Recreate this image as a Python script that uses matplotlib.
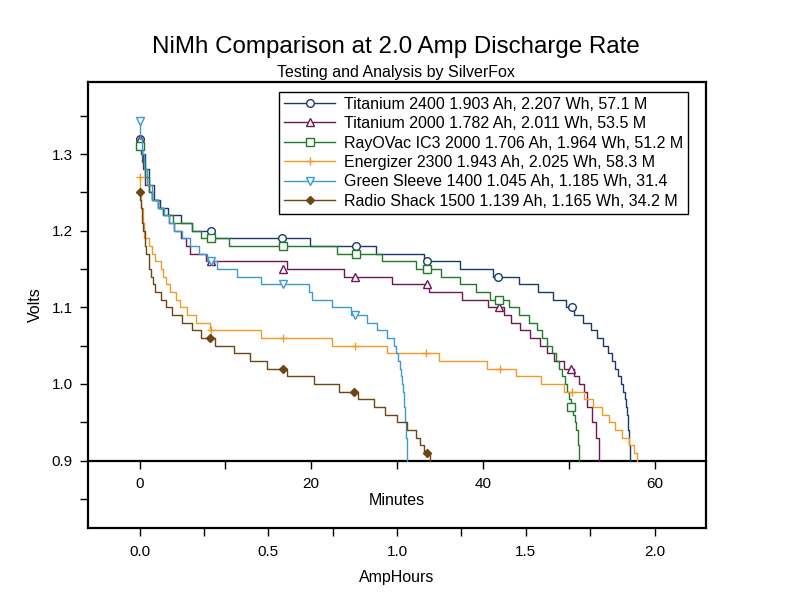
import numpy as np
import matplotlib
matplotlib.use("Agg")
import matplotlib.pyplot as plt
from matplotlib.ticker import MultipleLocator, FormatStrFormatter

plt.rcParams['font.family'] = ['Liberation Sans', 'DejaVu Sans']

# discharge curves: AmpHours where each voltage level starts, and the level
ti2400_ah = [0, 0.01, 0.02, 0.035, 0.056, 0.08, 0.11, 0.16, 0.205, 0.289, 0.664, 0.917, 1.103,
             1.245, 1.374, 1.472, 1.546, 1.604, 1.655, 1.687, 1.722, 1.755, 1.777, 1.80, 1.82,
             1.835, 1.848, 1.86, 1.87, 1.877, 1.884, 1.889, 1.893, 1.896, 1.898, 1.90, 1.902,
             1.903, 1.904]
ti2400_v = [1.32, 1.30, 1.28, 1.26, 1.24, 1.23, 1.22, 1.21, 1.20, 1.19, 1.18, 1.17, 1.16,
            1.15, 1.14, 1.13, 1.12, 1.11, 1.10, 1.09, 1.08, 1.07, 1.06, 1.05, 1.04,
            1.03, 1.02, 1.01, 1.00, 0.99, 0.98, 0.97, 0.96, 0.95, 0.94, 0.93, 0.92,
            0.91, 0.90]

ti2000_ah = [0, 0.005, 0.012, 0.02, 0.035, 0.05, 0.07, 0.09, 0.115, 0.135, 0.16, 0.18, 0.198,
             0.257, 0.574, 0.794, 0.981, 1.123, 1.253, 1.352, 1.417, 1.444, 1.479, 1.516, 1.557,
             1.583, 1.609, 1.65, 1.686, 1.706, 1.725, 1.739, 1.758, 1.771, 1.784]
ti2000_v = [1.32, 1.30, 1.28, 1.26, 1.25, 1.24, 1.23, 1.22, 1.21, 1.20, 1.19, 1.18, 1.17,
            1.16, 1.15, 1.14, 1.13, 1.12, 1.11, 1.10, 1.09, 1.08, 1.07, 1.06, 1.05,
            1.04, 1.03, 1.02, 1.01, 1.00, 0.99, 0.97, 0.95, 0.93, 0.90]

rov_ah = [0, 0.01, 0.02, 0.035, 0.05, 0.07, 0.09, 0.13, 0.205, 0.237, 0.347, 0.768, 0.942,
          1.072, 1.169, 1.245, 1.305, 1.36, 1.434, 1.473, 1.512, 1.544, 1.564, 1.583, 1.603,
          1.616, 1.628, 1.641, 1.654, 1.66, 1.668, 1.676, 1.685, 1.691, 1.696, 1.702, 1.706]
rov_v = [1.31, 1.29, 1.27, 1.25, 1.24, 1.23, 1.22, 1.21, 1.20, 1.19, 1.18, 1.17, 1.16,
         1.15, 1.14, 1.13, 1.12, 1.11, 1.10, 1.09, 1.08, 1.07, 1.06, 1.05, 1.04,
         1.03, 1.02, 1.01, 1.00, 0.99, 0.98, 0.97, 0.96, 0.95, 0.94, 0.92, 0.90]

ener_ah = [0, 0.003, 0.007, 0.012, 0.017, 0.036, 0.049, 0.062, 0.082, 0.09, 0.101, 0.12, 0.14,
           0.159, 0.185, 0.218, 0.272, 0.47, 0.748, 0.962, 1.162, 1.35, 1.464, 1.56, 1.65,
           1.725, 1.762, 1.797, 1.822, 1.848, 1.874, 1.90, 1.919, 1.933]
ener_v = [1.27, 1.25, 1.23, 1.21, 1.19, 1.18, 1.17, 1.16, 1.15, 1.14, 1.13, 1.12, 1.11,
          1.10, 1.09, 1.08, 1.07, 1.06, 1.05, 1.04, 1.03, 1.02, 1.01, 1.00, 0.99,
          0.98, 0.97, 0.96, 0.95, 0.94, 0.93, 0.92, 0.91, 0.90]

gs_ah = [0, 0.003, 0.008, 0.016, 0.03, 0.05, 0.07, 0.094, 0.114, 0.133, 0.166, 0.198, 0.23,
         0.262, 0.30, 0.379, 0.47, 0.66, 0.668, 0.748, 0.82, 0.884, 0.923, 0.962, 0.988,
         0.997, 1.005, 1.01, 1.014, 1.018, 1.022, 1.026, 1.029, 1.031, 1.033, 1.036, 1.039, 1.04]
gs_v = [1.34, 1.32, 1.30, 1.28, 1.26, 1.24, 1.23, 1.22, 1.21, 1.20, 1.19, 1.18, 1.17,
        1.16, 1.15, 1.14, 1.13, 1.12, 1.11, 1.10, 1.09, 1.08, 1.07, 1.06, 1.05,
        1.04, 1.03, 1.02, 1.01, 1.00, 0.99, 0.98, 0.97, 0.96, 0.95, 0.93, 0.91, 0.90]

rs_ah = [0, 0.002, 0.004, 0.0105, 0.014, 0.02, 0.027, 0.036, 0.045, 0.052, 0.062, 0.082, 0.101,
         0.127, 0.166, 0.205, 0.237, 0.295, 0.366, 0.431, 0.496, 0.574, 0.677, 0.774, 0.848,
         0.91, 0.955, 1.001, 1.04, 1.072, 1.091, 1.105, 1.13]
rs_v = [1.25, 1.24, 1.23, 1.21, 1.20, 1.18, 1.17, 1.15, 1.14, 1.13, 1.12, 1.11, 1.10,
        1.09, 1.08, 1.07, 1.06, 1.05, 1.04, 1.03, 1.02, 1.01, 1.00, 0.99, 0.98,
        0.97, 0.96, 0.95, 0.94, 0.93, 0.92, 0.91, 0.90]

# marker positions along each curve
ti2400_mk_ah = [0, 0.276, 0.555, 0.839, 1.118, 1.394, 1.68]
ti2400_mk_v = [1.32, 1.20, 1.19, 1.18, 1.16, 1.14, 1.10]
ti2000_mk_ah = [0, 0.276, 0.558, 0.835, 1.115, 1.395, 1.676]
ti2000_mk_v = [1.32, 1.16, 1.15, 1.14, 1.13, 1.10, 1.02]
rov_mk_ah = [0, 0.276, 0.557, 0.839, 1.117, 1.398, 1.677]
rov_mk_v = [1.31, 1.19, 1.18, 1.17, 1.15, 1.11, 0.97]
ener_mk_ah = [0, 0.276, 0.557, 0.835, 1.114, 1.399, 1.68]
ener_mk_v = [1.27, 1.07, 1.06, 1.05, 1.04, 1.02, 0.99]
gs_mk_ah = [0, 0.276, 0.557, 0.835]
gs_mk_v = [1.343, 1.16, 1.13, 1.09]
rs_mk_ah = [0, 0.273, 0.557, 0.832, 1.115]
rs_mk_v = [1.25, 1.06, 1.02, 0.99, 0.91]

labels = ["Titanium 2400 1.903 Ah, 2.207 Wh, 57.1 M",
          "Titanium 2000 1.782 Ah, 2.011 Wh, 53.5 M",
          "RayOVac IC3 2000 1.706 Ah, 1.964 Wh, 51.2 M",
          "Energizer 2300 1.943 Ah, 2.025 Wh, 58.3 M",
          "Green Sleeve 1400 1.045 Ah, 1.185 Wh, 31.4",
          "Radio Shack 1500 1.139 Ah, 1.165 Wh, 34.2 M"]
colors = ['#1c3a68', '#6e1850', '#1f7a2c', '#f09a2a', '#3b9ad2', '#6e4514']
markers = ['o', '^', 's', '+', 'v', 'D']
filled = [False, False, False, True, False, True]

volt_ticks = [0.9, 1.0, 1.1, 1.2, 1.3]
volt_minor = [0.85, 0.95, 1.05, 1.15, 1.25, 1.35]
min_ticks = [0, 20, 40, 60]
min_minor = [10, 30, 50]

series = [(ti2400_ah, ti2400_v, ti2400_mk_ah, ti2400_mk_v),
          (ti2000_ah, ti2000_v, ti2000_mk_ah, ti2000_mk_v),
          (rov_ah, rov_v, rov_mk_ah, rov_mk_v),
          (ener_ah, ener_v, ener_mk_ah, ener_mk_v),
          (gs_ah, gs_v, gs_mk_ah, gs_mk_v),
          (rs_ah, rs_v, rs_mk_ah, rs_mk_v)]

fig = plt.figure(figsize=(7.92, 6.11), dpi=100)
ax = fig.add_axes([88/792, 1-528/611, 618/792, 446/611])

ymin, ymax = 0.812, 1.394
ax.set_xlim(-0.2, 2.2)
ax.set_ylim(ymin, ymax)

handles = []
for (a, v, ma, mv), c, m, f in zip(series, colors, markers, filled):
    ln, = ax.plot(a, v, color=c, lw=1.0, drawstyle='steps-post')
    mk, = ax.plot(ma, mv, ls='none', marker=m, color=c, ms=5.5 if m != 'D' else 4.5,
                  mfc=c if f else 'white', mec=c, mew=1.0)
    handles.append((ln, mk))

for s in ax.spines.values():
    s.set_linewidth(1.6)

ax.set_yticks(volt_ticks)
ax.set_yticks(volt_minor, minor=True)
ax.yaxis.set_major_formatter(FormatStrFormatter('%.1f'))
ax.xaxis.set_major_locator(MultipleLocator(0.5))
ax.xaxis.set_minor_locator(MultipleLocator(0.25))
ax.xaxis.set_major_formatter(FormatStrFormatter('%.1f'))
ax.tick_params(which='both', direction='out', length=6, width=1.0, labelsize=11)
ax.tick_params(axis='y', pad=5)
ax.tick_params(axis='x', pad=6)
ax.set_xlabel("AmpHours", fontsize=11.5, labelpad=8)
ax.set_ylabel("Volts", fontsize=11.5, labelpad=6)

# minutes axis along the 0.9 V line
loc = (0.9 - ymin) / (ymax - ymin)
sec = ax.secondary_xaxis(loc, functions=(lambda x: x * 30, lambda x: x / 30))
sec.spines['bottom'].set_linewidth(1.6)
sec.set_xticks(min_ticks)
sec.set_xticks(min_minor, minor=True)
sec.tick_params(which='both', direction='out', length=6, width=1.0, labelsize=11, pad=6)
sec.set_xlabel("Minutes", fontsize=11.5, labelpad=1)

leg = ax.legend(handles, labels, loc='upper right', bbox_to_anchor=(0.971, 0.978),
                fontsize=11.5, frameon=True, fancybox=False, framealpha=1,
                edgecolor='black', handlelength=3.2, handletextpad=0.55,
                labelspacing=0.28, borderpad=0.3, borderaxespad=0)
leg.get_frame().set_linewidth(1.0)

fig.text(0.5, 1 - 47/611, "NiMh Comparison at 2.0 Amp Discharge Rate", fontsize=17.4,
         ha='center', va='center')
fig.text(0.5, 1 - 73/611, "Testing and Analysis by SilverFox", fontsize=11.5,
         ha='center', va='center')

fig.savefig("out.png", dpi=100)
